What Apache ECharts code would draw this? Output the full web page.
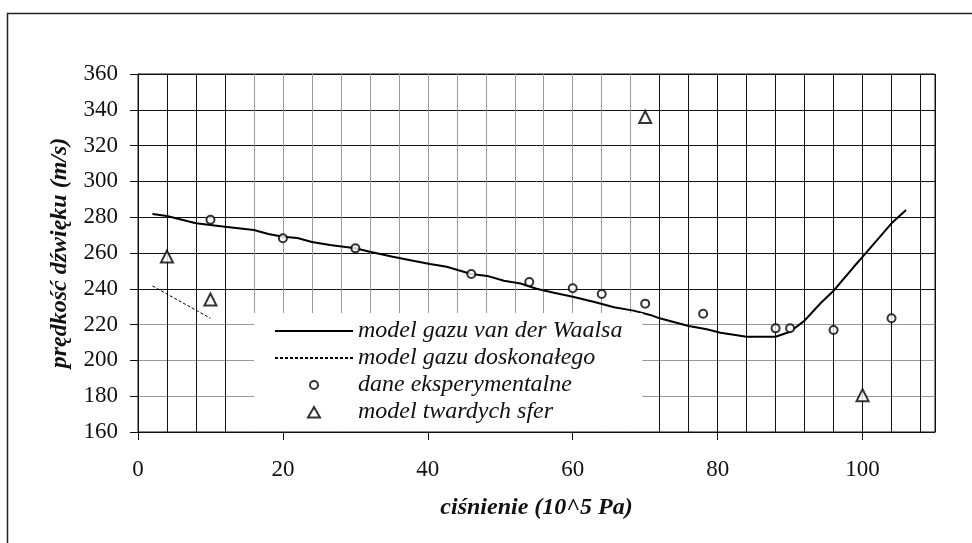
<!DOCTYPE html>
<html>
<head>
<meta charset="utf-8">
<script src="https://cdn.jsdelivr.net/npm/echarts@6/dist/echarts.min.js"></script>
<style>
  html, body { margin: 0; padding: 0; background: #fff; }
  #chart { width: 972px; height: 543px; }
</style>
</head>
<body>
<div id="chart"></div>
<script>
    // model gazu van der Waalsa
    var vdwP = [2, 4, 8, 12, 16, 18, 20, 22, 24, 26.5, 30, 32, 35, 37.6, 40.3, 42.6, 46, 48.2, 50.5, 52.8, 55, 57.4, 60, 63, 65.7, 68.4, 70.7, 72, 76, 78.5, 80.4, 84, 88, 90, 92, 94.2, 96, 98.8, 100, 104, 106];
    var vdwV = [281.8, 280.7, 276.6, 274.7, 272.8, 270.6, 269.1, 268.4, 266.1, 264.5, 262.6, 260.7, 258, 256, 253.9, 252.3, 248.3, 247.2, 244.5, 243, 240, 237.8, 235.6, 232.6, 229.7, 227.8, 225.4, 223.5, 219.2, 217.4, 215.5, 213.2, 213.2, 216, 222.2, 231.9, 238.9, 252.3, 257.8, 276.6, 284];
    // model gazu doskonalego
    var idealP = [2, 10];
    var idealV = [241.6, 223.5];
    // dane eksperymentalne
    var expP = [10, 20, 30, 46, 54, 60, 64, 70, 78, 88, 90, 96, 104];
    var expV = [278.6, 268.2, 262.6, 248.3, 243.8, 240.3, 237.1, 231.7, 226.1, 217.9, 218, 217, 223.5];
    // model twardych sfer
    var hsP = [4, 10, 70, 100];
    var hsV = [258, 234, 336, 180.6];

    var xTicks = [0, 20, 40, 60, 80, 100];
    var seriesNames = ['model gazu van der Waalsa', 'model gazu doskonałego', 'dane eksperymentalne', 'model twardych sfer'];

    function zip(a, b) {
        var out = [];
        for (var i = 0; i < a.length; i++) out.push([a[i], b[i]]);
        return out;
    }

    // vertical grid: dark on the left and right, grey in the middle (as in the scan)
    var vColors = [];
    for (var i = 0; i <= 28; i++) {
        vColors.push((i >= 4 && i <= 17) ? '#999' : '#111');
    }
    var hColors = ['#111', '#999', '#999', '#999', '#111', '#111', '#111', '#111', '#111', '#111', '#111'];

    // legend markers: the move-to points keep the icon box 78x12 so the marker is not stretched
    var circleIcon = 'path://M0,0M78,12M43,6A4,4,0,1,1,35,6A4,4,0,1,1,43,6Z';
    var triangleIcon = 'path://M0,0M78,12M33,11.5L39,1L45,11.5Z';
    var emptyStyle = { color: '#fff', borderColor: '#000', borderWidth: 2 };

    var font = '"Liberation Serif", "Times New Roman", serif';
    var chart = echarts.init(document.getElementById('chart'));

    var option = {
        animation: false,
        backgroundColor: '#fff',
        graphic: [{
            type: 'rect',
            left: 5, top: 11,
            shape: { width: 1000, height: 600 },
            style: { fill: 'none', stroke: '#222', lineWidth: 1.5 },
            z: 100
        }],
        grid: {
            left: 138, top: 74, width: 797, height: 358,
            show: true, borderColor: '#111', borderWidth: 1,
            backgroundColor: 'transparent'
        },
        legend: {
            orient: 'vertical',
            left: 254, top: 313,
            padding: [6, 20, 7, 20],
            backgroundColor: '#fff',
            itemWidth: 78, itemHeight: 12, itemGap: 3,
            textStyle: { fontFamily: font, fontStyle: 'italic', fontSize: 24, lineHeight: 24, color: '#111' },
            data: [
                { name: seriesNames[0], itemStyle: { opacity: 0 } },
                { name: seriesNames[1], itemStyle: { opacity: 0 } },
                { name: seriesNames[2], icon: circleIcon, itemStyle: emptyStyle },
                { name: seriesNames[3], icon: triangleIcon, itemStyle: emptyStyle }
            ]
        },
        xAxis: [{
            type: 'value', min: 0, max: 110, interval: 20,
            name: 'ciśnienie (10^5 Pa)', nameLocation: 'middle', nameGap: 64,
            nameTextStyle: { fontFamily: font, fontStyle: 'italic', fontWeight: 'bold', fontSize: 24, color: '#111' },
            axisLine: { lineStyle: { color: '#111', width: 1 } },
            axisTick: { show: true, length: 8, inside: false, customValues: xTicks, lineStyle: { color: '#111' } },
            axisLabel: { customValues: xTicks, margin: 26, fontFamily: font, fontSize: 23, color: '#111' },
            splitLine: { show: false }
        }, {
            type: 'value', min: 0, max: 110, interval: 4, position: 'bottom',
            axisLine: { show: false }, axisTick: { show: false }, axisLabel: { show: false },
            splitLine: { show: true, lineStyle: { color: vColors, width: 1 } }
        }],
        yAxis: {
            type: 'value', min: 160, max: 360, interval: 20,
            name: 'prędkość dźwięku (m/s)', nameLocation: 'middle', nameGap: 66,
            nameTextStyle: { fontFamily: font, fontStyle: 'italic', fontWeight: 'bold', fontSize: 24, color: '#111' },
            axisLine: { show: true, lineStyle: { color: '#111', width: 1 } },
            axisTick: { show: true, length: 8, lineStyle: { color: '#111' } },
            axisLabel: { margin: 20, fontFamily: font, fontSize: 23, color: '#111' },
            splitLine: { show: true, lineStyle: { color: hColors, width: 1 } }
        },
        series: [{
            name: seriesNames[0], type: 'line', xAxisIndex: 0,
            data: zip(vdwP, vdwV), showSymbol: false, symbol: 'none',
            lineStyle: { color: '#000', width: 2 }, itemStyle: { color: '#000' }, z: 3
        }, {
            name: seriesNames[1], type: 'line', xAxisIndex: 0,
            data: zip(idealP, idealV), showSymbol: false, symbol: 'none',
            lineStyle: { color: '#000', width: 1, type: [3, 2] }, itemStyle: { color: '#000' }, z: 3
        }, {
            name: seriesNames[2], type: 'scatter', xAxisIndex: 0,
            data: zip(expP, expV), symbol: 'emptyCircle', symbolSize: 8,
            itemStyle: { color: '#000', borderColor: '#000', borderWidth: 2 }, z: 4
        }, {
            name: seriesNames[3], type: 'scatter', xAxisIndex: 0,
            data: zip(hsP, hsV), symbol: 'emptyTriangle', symbolSize: 12, symbolKeepAspect: true,
            itemStyle: { color: '#000', borderColor: '#000', borderWidth: 2 }, z: 4
        }]
    };

    chart.setOption(option);
</script>
</body>
</html>
